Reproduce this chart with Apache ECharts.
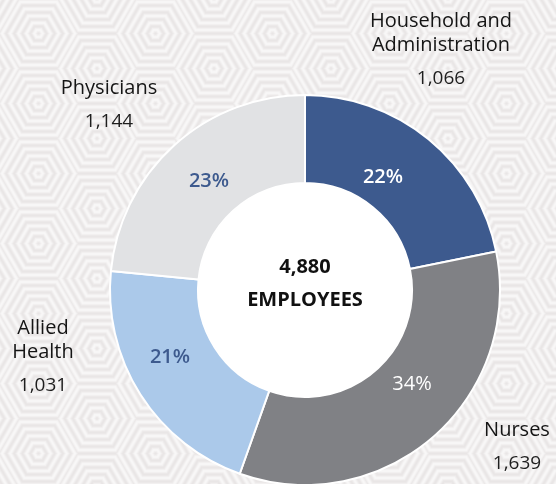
<!DOCTYPE html>
<html><head><meta charset="utf-8">
<script src="https://cdn.jsdelivr.net/npm/echarts@6/dist/echarts.min.js"></script>
<style>html,body{margin:0;padding:0;background:#f6f5f5}#c{width:556px;height:484px}</style>
</head><body><div id="c"></div>
<script>
const categories = ['Household and\nAdministration', 'Nurses', 'Allied\nHealth', 'Physicians'];
const values = [1066, 1639, 1031, 1144];
const centerLabel = 'EMPLOYEES';

const sliceColors = ['#3d5a8e', '#808185', '#abc9ea', '#e1e2e4'];
const pctColors = ['#ffffff', '#ffffff', '#3d5a8e', '#3d5a8e'];
const FONT = '"Open Sans", "Noto Sans", sans-serif';

function makeBg(w, h) {
  const c = document.createElement('canvas'); c.width = w; c.height = h;
  const ctx = c.getContext('2d'); const img = ctx.createImageData(w, h);
  const px = 117, py = 70, ox = 38, oy = 33, P = 7;
  const s3 = Math.sqrt(3);
  function hn(dx, dy) { dx = Math.abs(dx); dy = Math.abs(dy); return Math.max(dy, (s3 * dx + dy) / 2); }
  for (let y = 0; y < h; y++) for (let x = 0; x < w; x++) {
    let best = 1e9;
    for (const [bx, by] of [[ox, oy], [ox + px / 2, oy + py / 2]]) {
      const i0 = Math.round((x - bx) / px), j0 = Math.round((y - by) / py);
      for (let di = -1; di <= 1; di++) for (let dj = -1; dj <= 1; dj++) {
        const d = hn(x - (bx + (i0 + di) * px), y - (by + (j0 + dj) * py));
        if (d < best) best = d;
      }
    }
    const t = 0.5 + 0.5 * Math.cos(2 * Math.PI * best / P);
    const k = (y * w + x) * 4;
    img.data[k] = 248 - 15 * t; img.data[k + 1] = 247 - 17 * t; img.data[k + 2] = 247 - 17 * t; img.data[k + 3] = 255;
  }
  ctx.putImageData(img, 0, 0);
  return c;
}

const total = values.reduce((a, b) => a + b, 0);
const chart = echarts.init(document.getElementById('c'), null, { renderer: 'canvas' });
const outerPos = [[441, 55], [517, 452], [43, 362], [109, 110]];
const pctPos = [[383, 177], [412, 384], [170, 357], [209, 181]];

chart.setOption({
  animation: false,
  graphic: [
    { type: 'image', z: -10, silent: true, style: { image: makeBg(556, 484), x: 0, y: 0, width: 556, height: 484 } },
    { type: 'text', z: 10, x: 305, y: 267, style: { text: total.toLocaleString('en-US'), fill: '#111', font: 'bold 20px ' + FONT, align: 'center', verticalAlign: 'middle' } },
    { type: 'text', z: 10, x: 305, y: 300, style: { text: centerLabel, fill: '#111', font: 'bold 20px ' + FONT, align: 'center', verticalAlign: 'middle' } }
  ],
  series: [
    {
      type: 'pie', silent: true, center: [305, 290], radius: [0, 107],
      label: { show: false }, labelLine: { show: false },
      data: [{ value: 1, itemStyle: { color: '#ffffff' } }]
    },
    {
      type: 'pie', center: [305, 290], radius: [107, 195], startAngle: 90, clockwise: true,
      silent: true,
      itemStyle: { borderColor: '#ffffff', borderWidth: 2 },
      label: {
        show: true, position: 'inside', fontFamily: FONT, fontSize: 20, fontWeight: 600,
        formatter: p => Math.round(p.percent) + '%'
      },
      labelLayout: p => ({ x: pctPos[p.dataIndex][0], y: pctPos[p.dataIndex][1], align: 'center', verticalAlign: 'middle' }),
      labelLine: { show: false },
      data: categories.map((c, i) => ({
        name: c, value: values[i],
        itemStyle: { color: sliceColors[i] },
        label: { color: pctColors[i], fontWeight: i === 1 ? 500 : 600 }
      }))
    },
    {
      type: 'pie', center: [305, 290], radius: [107, 195], startAngle: 90, clockwise: true,
      silent: true, z: 5,
      itemStyle: { color: 'rgba(0,0,0,0)', borderWidth: 0 },
      label: {
        show: true, position: 'outside', overflow: 'none', fontFamily: FONT, color: '#151515', align: 'center',
        formatter: p => p.name.split('\n').map(s => '{n|' + s + '}').join('\n') + '\n{v|' + p.value.toLocaleString('en-US') + '}',
        rich: {
          n: { fontFamily: FONT, fontSize: 20, lineHeight: 24, color: '#151515', align: 'center' },
          v: { fontFamily: FONT, fontSize: 19, lineHeight: 44, color: '#1e1e1e', align: 'center' }
        }
      },
      labelLine: { show: false },
      labelLayout: p => ({ x: outerPos[p.dataIndex][0], y: outerPos[p.dataIndex][1], align: 'center', verticalAlign: 'middle' }),
      data: categories.map((c, i) => ({ name: c, value: values[i] }))
    }
  ]
});
</script></body></html>
